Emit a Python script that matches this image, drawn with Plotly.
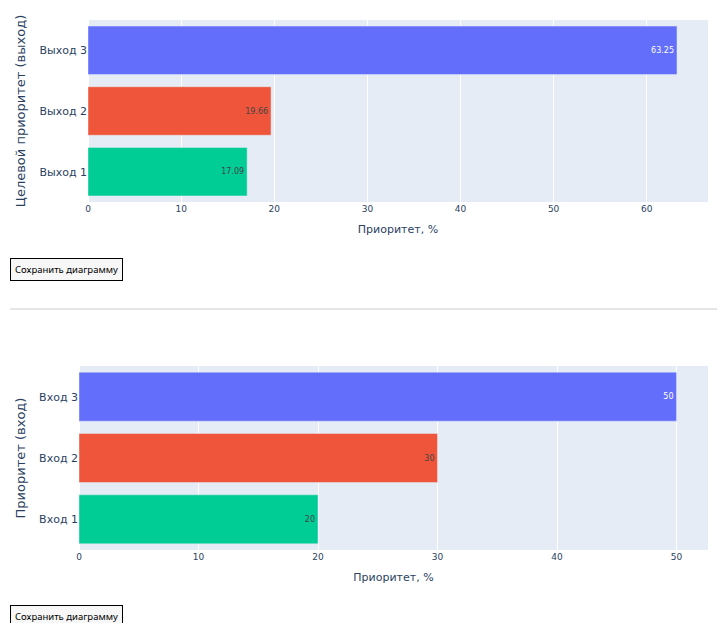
import plotly.graph_objects as go

# Data
out_labels = ["Выход 3", "Выход 2", "Выход 1"]
out_values = [63.25, 19.66, 17.09]
in_labels = ["Вход 3", "Вход 2", "Вход 1"]
in_values = [50, 30, 20]

colors = ["#636efa", "#EF553B", "#00cc96"]

W, H = 709, 615  # body margin of 8px eats the rest of the window

fig = go.Figure()

# Top chart: target priority (outputs)
for name, val, c in zip(out_labels, out_values, colors):
    fig.add_trace(go.Bar(
        x=[val], y=[name], orientation='h', marker_color=c,
        text=[f"{val:.2f}"], textposition='inside', textfont=dict(size=8),
        xaxis='x', yaxis='y', showlegend=False))

# Bottom chart: priority (inputs)
for name, val, c in zip(in_labels, in_values, colors):
    fig.add_trace(go.Bar(
        x=[val], y=[name], orientation='h', marker_color=c,
        text=[f"{val}"], textposition='inside', textfont=dict(size=8),
        xaxis='x2', yaxis='y2', showlegend=False))

fig.update_layout(
    width=W, height=H,
    margin=dict(l=0, r=0, t=0, b=0),
    barmode='relative',
    font=dict(family="Verdana, DejaVu Sans", color="#2a3f5f"),
    plot_bgcolor="#E5ECF6",
    paper_bgcolor="white",
    xaxis=dict(domain=[80 / W, 700 / W], anchor='y', automargin=False,
               title=dict(text="Приоритет, %", font=dict(size=11), standoff=12),
               tickfont=dict(size=9), gridcolor='white'),
    yaxis=dict(domain=[1 - 194 / H, 1 - 12 / H], anchor='x', automargin=False,
               categoryorder='array', categoryarray=out_labels[::-1],
               title=dict(text="Целевой приоритет (выход)", font=dict(size=13), standoff=10),
               tickfont=dict(size=11)),
    xaxis2=dict(domain=[71 / W, 700 / W], anchor='y2', automargin=False,
                title=dict(text="Приоритет, %", font=dict(size=11), standoff=12),
                tickfont=dict(size=9), gridcolor='white'),
    yaxis2=dict(domain=[1 - 542 / H, 1 - 358 / H], anchor='x2', automargin=False,
                categoryorder='array', categoryarray=in_labels[::-1],
                title=dict(text="Приоритет (вход)", font=dict(size=13), standoff=10),
                tickfont=dict(size=11)),
)

# "Save chart" buttons drawn as boxed annotations
for ytop in [250, 597]:
    fig.add_annotation(
        text="Сохранить диаграмму", xref='paper', yref='paper',
        x=2 / W, y=1 - ytop / H, xanchor='left', yanchor='top',
        showarrow=False, font=dict(family="Noto Sans", size=9.5, color="black"),
        bgcolor="#f7f7f7", bordercolor="black", borderwidth=1, borderpad=4)

# horizontal rule between the charts
fig.add_shape(type='line', xref='paper', yref='paper',
              x0=2 / W, x1=1, y0=1 - 301 / H, y1=1 - 301 / H,
              line=dict(color="#cccccc", width=1))

fig.write_html("out.html")
